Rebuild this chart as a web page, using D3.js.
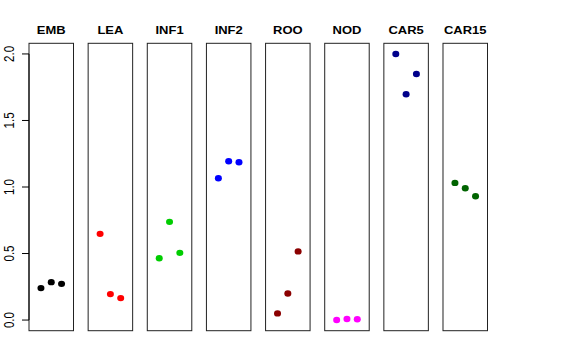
<!DOCTYPE html>
<html>
<head>
<meta charset="utf-8">
<script src="https://cdn.jsdelivr.net/npm/d3@7"></script>
<style>
html,body{margin:0;padding:0;background:#fff;}
svg{display:block;}
text{font-family:"Liberation Sans",Arial,Helvetica,sans-serif;}
</style>
</head>
<body>
<svg id="chart" width="576" height="360"></svg>
<script>
// Data
const categories = ["EMB","LEA","INF1","INF2","ROO","NOD","CAR5","CAR15"];
const colors = ["#000000","#FF0000","#00CD00","#0000FF","#8B0000","#FF00FF","#00008B","#006400"];
const replicates = [1, 2, 3];
const valEMB  = [0.240, 0.285, 0.272];
const valLEA  = [0.648, 0.195, 0.165];
const valINF1 = [0.465, 0.738, 0.505];
const valINF2 = [1.066, 1.194, 1.186];
const valROO  = [0.050, 0.200, 0.516];
const valNOD  = [0.000, 0.008, 0.006];
const valCAR5 = [2.000, 1.697, 1.849];
const valCAR15= [1.031, 0.991, 0.931];
const yTicks = [0, 0.5, 1.0, 1.5, 2.0];
const yTickLabels = ["0.0","0.5","1.0","1.5","2.0"];

const series = [valEMB,valLEA,valINF1,valINF2,valROO,valNOD,valCAR5,valCAR15];

const svg = d3.select("#chart");

const panelX = d3.scaleBand().domain(categories).range([29, 487.5]).paddingInner(0.2475).paddingOuter(0);
const y = d3.scaleLinear().domain([-0.08, 2.08]).range([330.7, 43.3]);

categories.forEach((cat, i) => {
  const x0 = panelX(cat);
  const bw = panelX.bandwidth();
  const x = d3.scaleLinear().domain([-0.16, 4.16]).range([x0, x0 + bw]);
  const g = svg.append("g");
  g.append("rect")
    .attr("x", x0).attr("y", y.range()[1])
    .attr("width", bw).attr("height", y.range()[0] - y.range()[1])
    .attr("fill", "none").attr("stroke", "#222").attr("stroke-width", 1);
  g.selectAll("ellipse").data(series[i]).join("ellipse")
    .attr("cx", (d, j) => x(replicates[j]))
    .attr("cy", d => y(d))
    .attr("rx", 3.5).attr("ry", 3.2)
    .attr("fill", colors[i]);
  g.append("text")
    .attr("transform", `translate(${x0 + bw / 2},34) scale(1.1,1)`)
    .attr("text-anchor", "middle")
    .attr("font-weight", "bold")
    .attr("font-size", 11.8)
    .text(cat);
});

// Y axis
const axisX = panelX(categories[0]);
const ax = svg.append("g");
ax.append("line")
  .attr("x1", axisX).attr("x2", axisX)
  .attr("y1", y(yTicks[0])).attr("y2", y(yTicks[yTicks.length - 1]))
  .attr("stroke", "#000");
ax.selectAll("line.tick").data(yTicks).join("line").attr("class", "tick")
  .attr("x1", axisX - 7).attr("x2", axisX)
  .attr("y1", d => y(d)).attr("y2", d => y(d))
  .attr("stroke", "#000");
ax.selectAll("text").data(yTicks).join("text")
  .attr("transform", d => `translate(13.5,${y(d)}) scale(1.2,1) rotate(-90)`)
  .attr("text-anchor", "middle")
  .attr("font-size", 11.5)
  .text((d, i) => yTickLabels[i]);
</script>
</body>
</html>
